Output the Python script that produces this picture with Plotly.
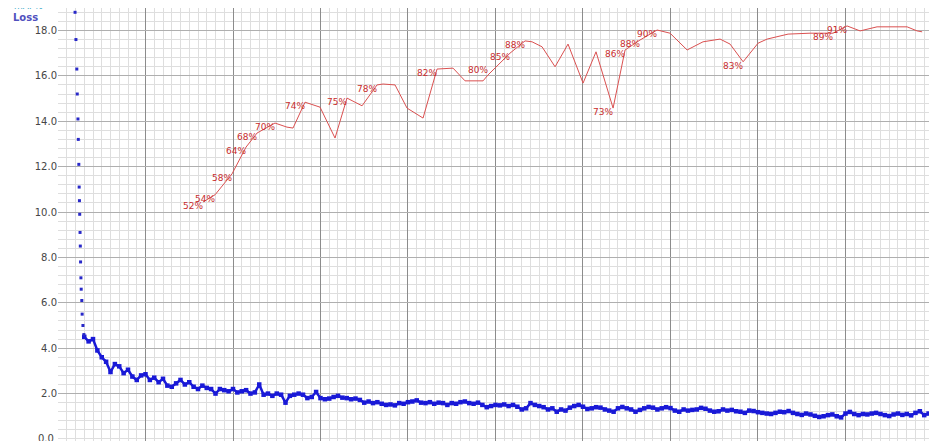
import plotly.graph_objects as go

# ---------------- data ----------------
# early (very high) loss values, drawn as separate dots
early_iter = [195, 205, 215, 220, 228, 232, 238, 242, 245, 248, 252, 255, 258, 262, 265, 272, 276, 285, 296]
early_loss = [18.8, 17.6, 16.3, 15.2, 14.1, 13.2, 12.1, 11.1, 10.5, 9.9, 9.1, 8.5, 7.8, 7.1, 6.6, 6.1, 5.5, 5.0, 4.6]

# main loss curve, one value every 50 iterations from 300
loss_iter = list(range(300, 10000, 50))
loss_vals = [
    4.5, 4.3, 4.4, 3.9, 3.6, 3.4, 2.95, 3.3, 3.2, 2.9,
    3.05, 2.75, 2.6, 2.8, 2.85, 2.6, 2.7, 2.5, 2.65, 2.35,
    2.3, 2.45, 2.6, 2.4, 2.5, 2.3, 2.2, 2.35, 2.25, 2.2,
    2.0, 2.2, 2.15, 2.1, 2.2, 2.05, 2.1, 2.15, 2.0, 2.05,
    2.4, 1.95, 2.0, 1.9, 2.0, 1.95, 1.6, 1.9, 1.95, 2.0,
    1.95, 1.8, 1.85, 2.07, 1.8, 1.75, 1.78, 1.85, 1.9, 1.82,
    1.8, 1.75, 1.78, 1.72, 1.6, 1.65, 1.58, 1.62, 1.55, 1.5,
    1.52, 1.48, 1.58, 1.55, 1.62, 1.65, 1.7, 1.6, 1.58, 1.62,
    1.55, 1.6, 1.58, 1.5, 1.58, 1.55, 1.62, 1.65, 1.58, 1.55,
    1.6, 1.5, 1.4, 1.45, 1.5, 1.48, 1.52, 1.45, 1.5, 1.42,
    1.3, 1.35, 1.58, 1.5, 1.45, 1.4, 1.3, 1.35, 1.2, 1.3,
    1.25, 1.38, 1.45, 1.5, 1.42, 1.32, 1.35, 1.4, 1.38, 1.3,
    1.25, 1.2, 1.35, 1.41, 1.35, 1.3, 1.2, 1.28, 1.35, 1.41,
    1.38, 1.3, 1.35, 1.4, 1.36, 1.25, 1.2, 1.3, 1.25, 1.28,
    1.3, 1.37, 1.33, 1.25, 1.2, 1.22, 1.3, 1.25, 1.28, 1.22,
    1.2, 1.15, 1.25, 1.23, 1.18, 1.15, 1.12, 1.1, 1.15, 1.2,
    1.18, 1.23, 1.15, 1.1, 1.06, 1.12, 1.08, 1.02, 0.97, 1.0,
    1.05, 1.08, 1.0, 0.95, 1.12, 1.19, 1.1, 1.05, 1.1, 1.08,
    1.12, 1.15, 1.1, 1.05, 1.01, 1.08, 1.12, 1.06, 1.1, 1.04,
    1.15, 1.22, 1.05, 1.12,
]

# mAP (%) curve
map_iter = [1657, 1795, 1989, 2149, 2275, 2480, 2617, 2686, 2823, 2995,
            3166, 3303, 3475, 3646, 3715, 3852, 3989, 4172, 4332, 4515,
            4652, 4858, 4915, 5166, 5338, 5418, 5532, 5681, 5829, 6001,
            6149, 6344, 6481, 6652, 6847, 6995, 7190, 7372, 7567, 7681,
            7830, 8001, 8104, 8344, 8595, 8858, 9018, 9167, 9361, 9704,
            9818, 9876]
map_vals = [52.2, 53.8, 58.4, 64.3, 67.4, 69.6, 68.7, 68.5, 74.2, 73.1,
            66.3, 75.1, 73.4, 78.0, 78.2, 78.0, 72.9, 70.7, 81.5, 81.7,
            78.9, 78.9, 80.2, 85.0, 87.7, 87.5, 86.4, 82.0, 87.0, 78.4,
            85.3, 72.9, 85.7, 87.9, 90.1, 89.4, 85.7, 87.5, 88.1, 87.0,
            83.1, 87.2, 88.1, 89.2, 89.4, 89.4, 91.0, 89.9, 90.8, 90.8,
            89.9, 89.7]
map_labels = ["52%", "54%", "58%", "64%", "68%", "70%", "", "", "74%", "",
              "", "75%", "", "78%", "", "", "", "", "82%", "",
              "", "", "80%", "85%", "88%", "", "", "", "", "",
              "", "73%", "86%", "88%", "90%", "", "", "", "", "",
              "83%", "", "", "", "", "89%", "91%", "", "", "",
              "", ""]
label_pos = ["top left" if lab == "80%" else "bottom left" for lab in map_labels]

y_ticks = [2, 4, 6, 8, 10, 12, 14, 16, 18]
y_tick_text = ["2.0", "4.0", "6.0", "8.0", "10.0", "12.0", "14.0", "16.0", "18.0"]

# visible window (the page body adds an 8px offset, so the figure is 929x433)
Y_MIN, Y_MAX = -0.09, 18.99
X_MIN, X_MAX = 0, 10046

# ---------------- figure ----------------
fig = go.Figure()

fig.add_trace(go.Scatter(
    x=loss_iter, y=loss_vals, mode="lines+markers",
    line=dict(color="rgb(25,25,215)", width=2.5),
    marker=dict(color="rgb(25,25,215)", size=4.5, symbol="square"),
    showlegend=False, hoverinfo="skip"))

fig.add_trace(go.Scatter(
    x=early_iter, y=early_loss, mode="markers",
    marker=dict(color="rgb(40,40,200)", size=3, symbol="square"),
    showlegend=False, hoverinfo="skip", cliponaxis=False))

fig.add_trace(go.Scatter(
    x=map_iter, y=map_vals, mode="lines+text", yaxis="y2",
    line=dict(color="rgb(218,80,80)", width=1),
    text=map_labels, textposition=label_pos,
    textfont=dict(family="DejaVu Sans", size=9, color="rgb(200,45,45)"),
    showlegend=False, hoverinfo="skip", cliponaxis=False))

fig.add_annotation(xref="paper", yref="paper", x=-0.052, y=1.0, xanchor="left", yanchor="middle",
                   yshift=2, text="mAP%", showarrow=False,
                   font=dict(family="DejaVu Sans", size=9, color="rgb(60,170,200)"))
fig.add_annotation(xref="paper", yref="paper", x=-0.053, y=1.0, xanchor="left", yanchor="middle",
                   yshift=-9, text="<b>Loss</b>", showarrow=False,
                   font=dict(family="DejaVu Sans", size=10, color="rgb(80,80,190)"))
# bottom tick label, partly cut off at the lower edge as in the reference
fig.add_annotation(xref="paper", yref="y", x=0, y=0, xanchor="right", yanchor="middle",
                   xshift=-2, text="0.0", showarrow=False,
                   font=dict(family="DejaVu Sans", size=10, color="rgb(70,70,70)"))

fig.update_layout(
    template="none",
    width=929, height=433,
    margin=dict(l=50, r=0, t=0, b=0, pad=0),
    paper_bgcolor="white", plot_bgcolor="white",
    xaxis=dict(range=[X_MIN, X_MAX], showticklabels=False, ticks="", automargin=False,
               showgrid=True, gridcolor="rgb(140,140,140)", gridwidth=1, dtick=1000, tick0=0,
               minor=dict(dtick=100, showgrid=True, gridcolor="rgb(222,222,222)", gridwidth=1),
               zeroline=False, showline=True, linecolor="rgb(150,150,150)", linewidth=1),
    yaxis=dict(range=[Y_MIN, Y_MAX], tickvals=y_ticks, ticktext=y_tick_text, automargin=False,
               tickfont=dict(family="DejaVu Sans", size=10, color="rgb(70,70,70)"),
               showgrid=True, gridcolor="rgb(175,175,175)", gridwidth=1,
               minor=dict(dtick=0.4, tick0=0, showgrid=True, gridcolor="rgb(222,222,222)", gridwidth=1),
               zeroline=False, ticks="", ticklen=0, showline=False),
    yaxis2=dict(range=[Y_MIN * 5, Y_MAX * 5], overlaying="y", visible=False, showgrid=False,
                automargin=False),
)

fig.write_html("out.html")
